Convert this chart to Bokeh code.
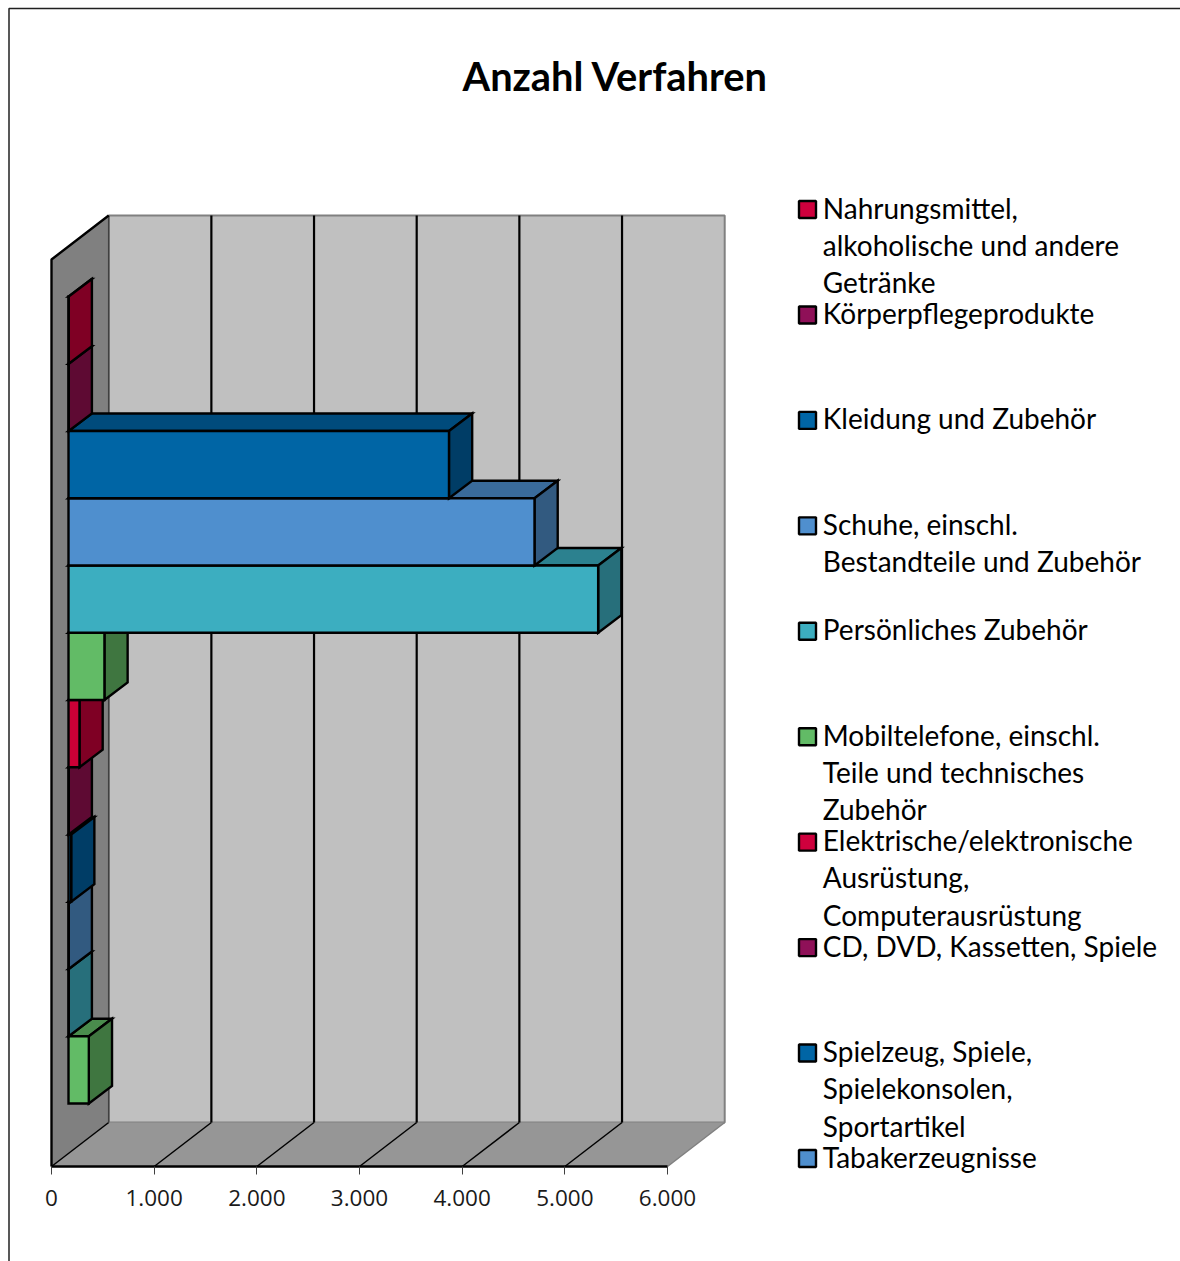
from bokeh.plotting import figure
from bokeh.models import ColumnDataSource, FixedTicker, LinearAxis
from bokeh.core.properties import value
from bokeh.embed import file_html
from bokeh.resources import INLINE

# ---------- data (top bar first) ----------
title_text = "Anzahl Verfahren"
categories = [
    "Nahrungsmittel,\nalkoholische und andere\nGetränke",
    "Körperpflegeprodukte",
    "Kleidung und Zubehör",
    "Schuhe, einschl.\nBestandteile und Zubehör",
    "Persönliches Zubehör",
    "Mobiltelefone, einschl.\nTeile und technisches\nZubehör",
    "Elektrische/elektronische\nAusrüstung,\nComputerausrüstung",
    "CD, DVD, Kassetten, Spiele",
    "Spielzeug, Spiele,\nSpielekonsolen,\nSportartikel",
    "Tabakerzeugnisse",
    "",
    "",
]
values = [2, 2, 3706, 4539, 5159, 350, 107, 2, 26, 2, 2, 198]
tick_values = [0, 1000, 2000, 3000, 4000, 5000, 6000]
tick_labels = ["0", "1.000", "2.000", "3.000", "4.000", "5.000", "6.000"]
legend_count = 10

# colour cycle: front, top, side, legend
palette = [
    ("#CC0036", "#8A0028", "#7F0024", "#CF003D"),
    ("#8F1058", "#6A0A40", "#5E0A33", "#8F1058"),
    ("#0065A5", "#004B7C", "#003D66", "#0065A5"),
    ("#4F8FCE", "#3A6B9B", "#325A80", "#4F8FCE"),
    ("#3CAEC0", "#2C818F", "#276F7B", "#3CAEC0"),
    ("#62BB66", "#4A8C4D", "#3F7640", "#62BB66"),
]

# ---------- layout ----------
W, H = 1180, 1261
PX_PER_VALUE = 616 / 6000
PX_PER_BAR = 67.25
AX_X, AX_Y = 51, 1166       # pixel of origin


def X(px):
    return (px - AX_X) / PX_PER_VALUE


def Y(py):
    return (AX_Y - py) / PX_PER_BAR


p = figure(width=W, height=H, output_backend="svg", toolbar_location=None,
           x_range=(X(0), X(W)), y_range=(Y(H), Y(0)),
           x_axis_location=None, y_axis_location=None,
           min_border=0, min_border_left=0, min_border_right=0,
           min_border_top=0, min_border_bottom=0, outline_line_color=None)
p.grid.visible = False

wall_dx, wall_dy = X(108.2) - X(51), Y(1122) - Y(1166)
wall_h = Y(259) - Y(1166)
vmax = tick_values[-1]

# walls
p.patch([0, wall_dx, wall_dx, 0], [0, wall_dy, wall_dy + wall_h, wall_h],
        fill_color="#808080", line_color=None)
p.patch([wall_dx, vmax + wall_dx, vmax + wall_dx, wall_dx],
        [wall_dy, wall_dy, wall_dy + wall_h, wall_dy + wall_h],
        fill_color="#C0C0C0", line_color="#808080", line_width=2)
p.patch([0, vmax, vmax + wall_dx, wall_dx], [0, 0, wall_dy, wall_dy],
        fill_color="#969696", line_color=None)

# gridlines
for t in tick_values:
    p.line([t, t + wall_dx], [0, wall_dy], line_color="black" if t < vmax else "#808080", line_width=1.5)
    if 0 < t < vmax:
        p.line([t + wall_dx] * 2, [wall_dy, wall_dy + wall_h], line_color="black", line_width=2.2)
p.line([wall_dx, wall_dx], [wall_dy, wall_dy + wall_h], line_color="#404040", line_width=1.5)
p.line([0, 0, wall_dx], [0, wall_h, wall_dy + wall_h], line_color="black", line_width=2.4)

# bars
front_dx, front_dy = X(68) - X(51), Y(1153) - Y(1166)
bar_dx, bar_dy = X(91.2) - X(68), Y(1085.5) - Y(1103)
first_bottom = Y(1103)
xs, ys, fills = [], [], []
n = len(values)
for i in range(n - 1, -1, -1):      # bottom bar first: upper bars hide lower ones
    row = n - 1 - i
    v = values[i]
    x0, x1 = front_dx, front_dx + v
    y0 = first_bottom + row
    y1 = y0 + 1
    front, top, side, _ = palette[i % len(palette)]
    xs.append([x0, x1, x1 + bar_dx, x0 + bar_dx]); ys.append([y1, y1, y1 + bar_dy, y1 + bar_dy]); fills.append(top)
    xs.append([x1, x1 + bar_dx, x1 + bar_dx, x1]); ys.append([y0, y0 + bar_dy, y1 + bar_dy, y1]); fills.append(side)
    xs.append([x0, x1, x1, x0]); ys.append([y0, y0, y1, y1]); fills.append(front)
p.patches("xs", "ys", fill_color="fills", line_color="black", line_width=2.4, line_join="miter",
          source=ColumnDataSource(dict(xs=xs, ys=ys, fills=fills)))

# real value axis at y = 0
axis = LinearAxis(ticker=FixedTicker(ticks=tick_values),
                  major_label_overrides={t: s for t, s in zip(tick_values, tick_labels)},
                  fixed_location=0, bounds=(0, vmax),
                  axis_line_color="black", axis_line_width=2.4,
                  major_tick_line_color="#404040", major_tick_line_width=1,
                  major_tick_in=0, major_tick_out=8, minor_tick_line_color=None,
                  major_label_standoff=15, major_label_text_font="Open Sans",
                  major_label_text_font_size="22.5px", major_label_text_color="#1a1a1a")
p.add_layout(axis, "below")

# title
p.text([X(615)], [Y(75)], text=[title_text], text_font=value("Lato"), text_font_style="bold",
       text_font_size="39.8px", text_align="center", text_baseline="middle", text_color="black")

# legend
row_step = (1158 - 209) / 9
swatch_x, swatch_y, swatch_c = [], [], []
lx, ly, lt = [], [], []
for i, label in enumerate(categories[:legend_count]):
    cy = 209 + i * row_step
    swatch_x.append(X(807)); swatch_y.append(Y(cy)); swatch_c.append(palette[i % len(palette)][3])
    for j, line in enumerate(label.split("\n")):
        lx.append(X(822.3)); ly.append(Y(cy - 2 + j * 37.3)); lt.append(line)
p.scatter(swatch_x, swatch_y, marker="square", size=17, fill_color=swatch_c,
          line_color="black", line_width=2.4)
p.text(lx, ly, text=lt, text_font=value("Lato"), text_font_size="28px",
       text_align="left", text_baseline="alphabetic", text_color="black")

# chart-area border
p.line([X(W), X(8.5), X(8.5)], [Y(8), Y(8), Y(H)], line_color="#202020", line_width=1.5)

open("out.html", "w").write(file_html(p, INLINE))
